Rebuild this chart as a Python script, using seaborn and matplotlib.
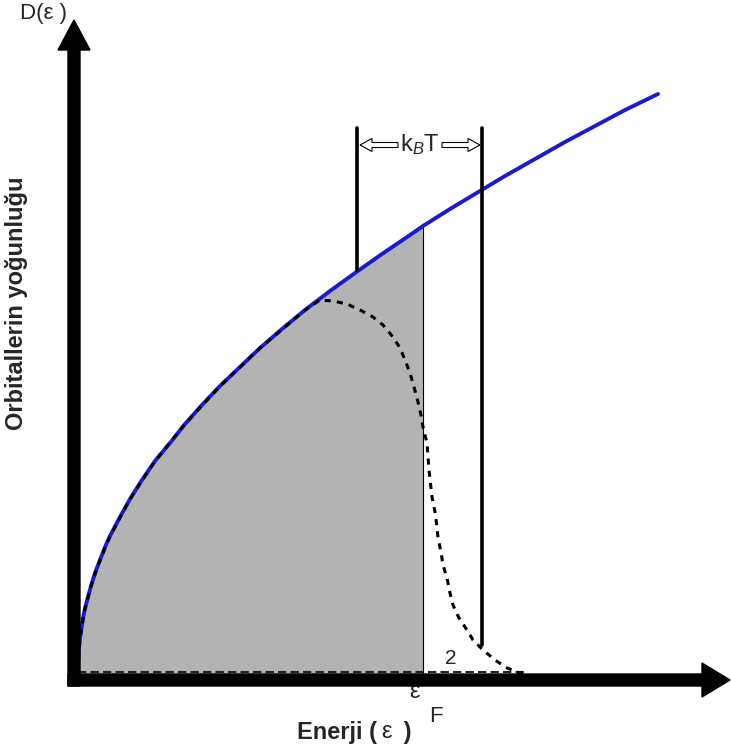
import numpy as np
import pandas as pd
import matplotlib
matplotlib.use("Agg")
import matplotlib.pyplot as plt
import seaborn as sns

sns.set_style("white")
plt.rcParams['font.family'] = ['Liberation Sans', 'DejaVu Sans']
plt.rcParams['mathtext.fontset'] = 'custom'
plt.rcParams['mathtext.rm'] = 'Liberation Sans'
plt.rcParams['mathtext.it'] = 'Liberation Sans:italic'

# Density of states D(eps) (blue curve)
eps_dos = [3, 3.5, 4, 5, 6.5, 8, 10, 13, 16, 20, 25, 30, 35, 45, 55, 67, 80, 95, 110, 127,
           145, 165, 185, 207, 230, 255, 280, 307, 335, 348, 375, 400, 430, 460, 490, 520,
           550, 583]
dos = [8, 25, 32, 42, 52, 62, 71.5, 83, 94, 107, 120, 133, 144, 163, 181, 200, 219, 237,
       256, 275, 294, 313, 332, 351, 370, 389, 407, 426, 445, 454, 471, 486, 504, 521, 538,
       554, 570, 586]

# Occupied states D(eps) f(eps) (dotted curve)
eps_occ = [3, 4, 6.5, 10, 16, 25, 35, 55, 80, 110, 145, 185, 230, 245, 258, 272, 285, 298,
           308, 318, 325, 330, 335, 339, 343, 346, 348, 352, 354, 357, 360, 362, 363, 366,
           368, 372, 375, 378, 384, 392, 398, 408, 420, 432, 445, 450]
dos_occ = [8, 32, 52, 71.5, 94, 120, 144, 181, 219, 256, 294, 332, 370, 380, 379, 376, 370,
           363, 355, 343, 332, 320, 307, 293, 278, 265, 253, 237, 210, 183, 168, 153, 142,
           128, 115, 102, 87, 75, 62, 50, 40, 30, 20, 12, 7, 8]

eps_F = 348
kT_left, kT_right = 282, 407
kT_top = 552
kT_left_bottom, kT_right_bottom = 410, 35

fig = plt.figure(figsize=(7.31, 7.44), dpi=100)
ax = fig.add_axes([0, 0, 1, 1])
ax.set_xlim(-75, 656)
ax.set_ylim(-64, 680)
ax.set_axis_off()

df_dos = pd.DataFrame({"eps": eps_dos, "D": dos})
df_occ = pd.DataFrame({"eps": eps_occ, "D": dos_occ})

# grey filled region up to eps_F
fill = df_dos[df_dos.eps <= eps_F]
ax.fill_between(fill.eps, 0, fill.D, color='#b3b3b3', lw=0, zorder=1)
ax.plot([eps_F, eps_F], [0, fill.D.iloc[-1]], color='black', lw=0.8, zorder=2)

# dashed baseline
ax.plot([eps_occ[0], eps_occ[-1]], [8, 8], color='#222222', lw=1.5, ls=(0, (4, 2)), zorder=2)

sns.lineplot(data=df_dos, x="eps", y="D", ax=ax, color='#1a1ad0', lw=2.8, sort=False, zorder=3)
sns.lineplot(data=df_occ, x="eps", y="D", ax=ax, color='black', lw=2.2, sort=False,
             ls=(0, (2, 2)), zorder=4)

# kT vertical lines
ax.plot([kT_left, kT_left], [kT_left_bottom, kT_top], color='black', lw=2.6, zorder=5)
ax.plot([kT_right, kT_right], [kT_right_bottom, kT_top], color='black', lw=2.6, zorder=5)

# hollow arrows
ax.arrow(323, 535, -38, 0, width=5, head_width=13, head_length=12, fc='white', ec='black',
         lw=0.8, length_includes_head=True, zorder=6)
ax.arrow(367, 535, 38, 0, width=5, head_width=13, head_length=12, fc='white', ec='black',
         lw=0.8, length_includes_head=True, zorder=6)
ax.text(345, 535, r"k$_{B}$T", ha='center', va='center', fontsize=17, zorder=7)

# axes arrows
ax.arrow(-7, 0, 662, 0, width=12, head_width=34, head_length=28, fc='black', ec='black',
         length_includes_head=True, zorder=8)
ax.arrow(-1, -6, 0, 666, width=12, head_width=32, head_length=30, fc='black', ec='black',
         length_includes_head=True, zorder=8)

# labels
ax.text(-55, 666, "D(ε )", ha='left', va='center', fontsize=16)
ax.text(-58, 377, "Orbitallerin yoğunluğu", rotation=90, ha='center', va='center',
        fontsize=17, fontweight='bold')
ax.text(302, -52, "Enerji (", ha='right', va='center', fontsize=17, fontweight='bold')
ax.text(306, -52, "ε", ha='left', va='center', fontsize=17)
ax.text(322, -52, " )", ha='left', va='center', fontsize=17, fontweight='bold')
ax.text(340, -12, "ε", ha='center', va='center', fontsize=17)
ax.text(361, -36, "F", ha='center', va='center', fontsize=16)
ax.text(376, 22, "2", ha='center', va='center', fontsize=15)

fig.savefig("out.png", dpi=100)
